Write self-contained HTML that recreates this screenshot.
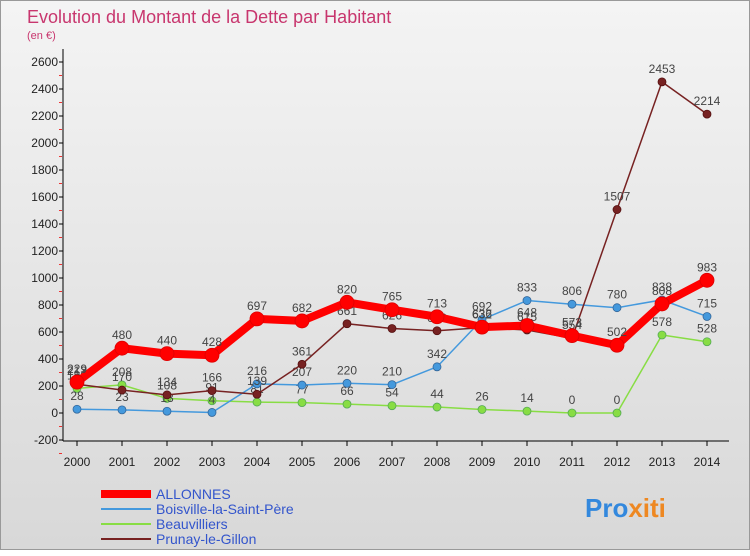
<!DOCTYPE html>
<html><head><meta charset="utf-8"><style>
body{margin:0;width:750px;height:550px;overflow:hidden;font-family:"Liberation Sans",sans-serif;}
#c{position:absolute;left:0;top:0;width:748px;height:548px;border:1px solid #999;background:linear-gradient(#f4f4f4,#d8d8d8);}
</style></head><body>
<div id="c">
<svg id="s" width="750" height="550"></svg>
</div>
<script>
const years=["2000","2001","2002","2003","2004","2005","2006","2007","2008","2009","2010","2011","2012","2013","2014"];
const yTicks=[-200,0,200,400,600,800,1000,1200,1400,1600,1800,2000,2200,2400,2600];
const allonnes=[229,480,440,428,697,682,820,765,713,636,648,573,502,808,983];
const boisville=[28,23,13,4,216,207,220,210,342,692,833,806,780,838,715];
const beauvilliers=[182,208,108,91,81,77,66,54,44,26,14,0,0,578,528];
const prunay=[213,170,134,166,139,361,661,626,609,632,615,554,1507,2453,2214];
const NS="http://www.w3.org/2000/svg",s=document.getElementById('s');
const X=i=>76+i*45, Y=v=>412-v*27/200;
function el(t,a,txt){const e=document.createElementNS(NS,t);for(const k in a)e.setAttribute(k,a[k]);if(txt!=null)e.textContent=txt;s.appendChild(e);return e;}
let t=el('text',{x:26,y:22,'font-size':18,fill:'#c8366e'},'Evolution du Montant de la Dette par Habitant');

t=el('text',{x:26,y:38,'font-size':11,fill:'#c8366e'},'(en €)');

let ax=el('line',{x1:62,y1:48,x2:62,y2:440,stroke:'#000'});

ax=el('line',{x1:62,y1:440,x2:728,y2:440,stroke:'#000'});

yTicks.forEach(v=>{const y=Y(v);
 el('line',{x1:58,y1:y,x2:62,y2:y,stroke:'#000'});
 el('line',{x1:58,y1:y+13.5,x2:61,y2:y+13.5,stroke:'#e33'});
 const l=el('text',{x:57,y:y+4,'font-size':12,fill:'#222','text-anchor':'end'},v);
 });
years.forEach((yr,i)=>{el('line',{x1:X(i),y1:440,x2:X(i),y2:445,stroke:'#000'});
 const l=el('text',{x:X(i),y:465,'font-size':12,fill:'#222','text-anchor':'middle'},yr);
 });
function series(d,col,w,r,name,dark){
 const p=el('polyline',{points:d.map((v,i)=>X(i)+','+Y(v)).join(' '),fill:'none',stroke:col,'stroke-width':w,'stroke-linejoin':'round'});
 
 d.forEach((v,i)=>{const c=el('circle',{cx:X(i),cy:Y(v),r:r,fill:col,stroke:dark,'stroke-width':0.8});
  
  const l=el('text',{x:X(i),y:Y(v)-9,'font-size':12,fill:'#444','text-anchor':'middle'},v);
  });
}
series(beauvilliers,'#88dd44',1.5,4,'beauvilliers','#5a5');
series(boisville,'#4499dd',1.5,4,'boisville','#369');
series(prunay,'#772222',1.5,4,'prunay','#511');
series(allonnes,'#ff0000',8,7,'allonnes','#d00');
const leg=[['ALLONNES','#ff0000',8],['Boisville-la-Saint-Père','#4499dd',2],['Beauvilliers','#88dd44',2],['Prunay-le-Gillon','#772222',2]];
leg.forEach((L,i)=>{const y=493+i*15;
 const ln=el('line',{x1:100,y1:y,x2:150,y2:y,stroke:L[1],'stroke-width':L[2]});
 
 const tx=el('text',{x:155,y:y+5,'font-size':14,fill:'#3355cc'},L[0]);
 });
const lg=el('text',{x:584,y:516,'font-size':26,'font-weight':'bold',fill:'#3388dd'});

const a=document.createElementNS(NS,'tspan');a.textContent='Pro';lg.appendChild(a);
const b=document.createElementNS(NS,'tspan');b.textContent='xiti';b.setAttribute('fill','#ee8822');lg.appendChild(b);
</script>
</body></html>
